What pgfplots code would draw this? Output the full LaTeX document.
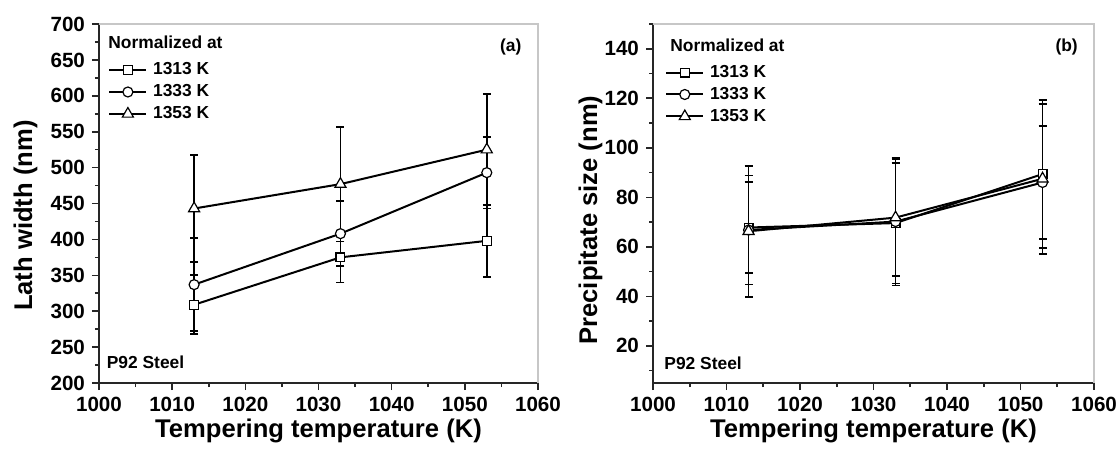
\documentclass[border=0pt]{standalone}
\usepackage{fontspec}
\setmainfont{Liberation Sans}
\usepackage{pgfplots}
\pgfplotsset{compat=1.18}

\pgfplotsset{
  panel/.style={
    scale only axis, width=219.5pt, height=179.5pt,
    axis lines*=left,
    axis line style={line width=0.8pt, black!85},
    tick align=outside,
    major tick length=3.5pt, minor tick length=2pt,
    every tick/.style={line width=0.8pt, black!85},
    xmin=1000, xmax=1060, xtick={1000,1010,...,1060}, minor xtick={1005,1015,...,1055},
    ticklabel style={font=\fontsize{10.3}{11}\selectfont\bfseries},
    /pgf/number format/assume math mode=true,
    /pgf/number format/1000 sep={},
    xlabel={Tempering temperature (K)},
    every axis x label/.style={at={(axis description cs:0.5,-0.153)}, anchor=base, font=\fontsize{12.8}{14}\selectfont\bfseries},
    clip=false,
    legend cell align=left,
    legend style={draw=none, fill=none, inner sep=0pt, row sep=3.4pt,
      font=\fontsize{8.7}{9}\selectfont\bfseries,
      nodes={inner sep=0pt},
      /tikz/every odd column/.append style={column sep=2.85pt}},
    after end axis/.code={\draw[black!22, line width=0.6pt] (rel axis cs:0,1) -- (rel axis cs:1,1) -- (rel axis cs:1,0);},
  },
  ln/.style={black, line width=1pt, mark=none, forget plot},
  sqm/.style={black, mark=square*, mark size=2.2pt, mark options={fill=white, draw=black, line width=0.6pt, solid}},
  cim/.style={black, mark=*, mark size=2.5pt, mark options={fill=white, draw=black, line width=0.6pt, solid}},
  trm/.style={black, mark=triangle*, mark size=3.2pt, mark options={fill=white, draw=black, line width=0.6pt, solid}},
  mk/.style={only marks, forget plot},
  leg/.style={black, line width=1pt, legend image code/.code={\draw[mark repeat=2, mark phase=2] plot coordinates {(0pt,0pt) (9.25pt,0pt) (18.5pt,0pt)};}},
  eb/.style={forget plot, draw=none, mark=none,
    error bars/.cd, y dir=both, y explicit,
    error bar style={draw=black, line width=0.9pt, solid},
    error mark=-,
    error mark options={draw=black, mark size=2pt, line width=0.9pt, rotate=90}},
}

\begin{document}
\begin{tikzpicture}
\path[use as bounding box] (0,0) rectangle (559pt,226pt);

% ---------------- panel (a)
\begin{axis}[panel, at={(49.5pt,34.5pt)}, anchor=south west,
  ymin=200, ymax=700, ytick={200,250,...,700}, minor ytick={225,275,...,675},
  ylabel={Lath width (nm)},
  every axis y label/.style={at={(axis description cs:-0.1526,0.466)}, rotate=90, anchor=base, font=\fontsize{12.8}{14}\selectfont\bfseries},
  legend style={at={(axis description cs:0.0205,0.894)}, anchor=north west},
]
\addlegendimage{leg, sqm}
\addlegendentry{1313 K}
\addlegendimage{leg, cim}
\addlegendentry{1333 K}
\addlegendimage{leg, trm}
\addlegendentry{1353 K}
% lines
\addplot[ln] coordinates {(1013,309) (1033,375) (1053,398)};
\addplot[ln] coordinates {(1013,337) (1033,408) (1053,493)};
\addplot[ln] coordinates {(1013,443) (1033,477) (1053,525)};
% markers
\addplot[mk, sqm] coordinates {(1013,309) (1033,375) (1053,398)};
\addplot[mk, cim] coordinates {(1013,337) (1033,408) (1053,493)};
\addplot[mk, trm] coordinates {(1013,443) (1033,477) (1053,525)};
% error bars
\addplot[eb] coordinates {(1013,309) +- (0,41) (1033,375) +- (0,35) (1053,398) +- (0,50)};
\addplot[eb] coordinates {(1013,337) +- (0,65) (1033,408) +- (0,45) (1053,493) +- (0,50)};
\addplot[eb] coordinates {(1013,443) +- (0,75) (1033,477) +- (0,80) (1053,525) +- (0,77)};
\node[anchor=west, font=\fontsize{8.7}{9}\selectfont\bfseries, inner sep=0pt] at (axis description cs:0.0205,0.950) {Normalized at};
\node[anchor=east, font=\fontsize{8.7}{9}\selectfont\bfseries, inner sep=0pt] at (axis description cs:0.963,0.937) {(a)};
\node[anchor=west, font=\fontsize{8.7}{9}\selectfont\bfseries, inner sep=0pt] at (axis description cs:0.017,0.057) {P92 Steel};
\end{axis}

% ---------------- panel (b)
\begin{axis}[panel, at={(326.5pt,34.5pt)}, anchor=south west, width=220.5pt,
  ymin=5, ymax=150, ytick={20,40,...,140}, minor ytick={10,30,...,150},
  ylabel={Precipitate size (nm)},
  every axis y label/.style={at={(axis description cs:-0.127,0.454)}, rotate=90, anchor=base, font=\fontsize{12.8}{14}\selectfont\bfseries},
  legend style={at={(axis description cs:0.027,0.887)}, anchor=north west},
]
\addlegendimage{leg, sqm}
\addlegendentry{1313 K}
\addlegendimage{leg, cim}
\addlegendentry{1333 K}
\addlegendimage{leg, trm}
\addlegendentry{1353 K}
\addplot[ln] coordinates {(1013,67.8) (1033,69.6) (1053,89.4)};
\addplot[ln] coordinates {(1013,66.8) (1033,70.2) (1053,86)};
\addplot[ln] coordinates {(1013,66.3) (1033,71.8) (1053,87.5)};
\addplot[mk, sqm] coordinates {(1013,67.8) (1033,69.6) (1053,89.4)};
\addplot[mk, cim] coordinates {(1013,66.8) (1033,70.2) (1053,86)};
\addplot[mk, trm] coordinates {(1013,66.3) (1033,71.8) (1053,87.5)};
\addplot[eb] coordinates {(1013,67.8) +- (0,18.3) (1033,69.6) +- (0,24.4) (1053,89.4) +- (0,29.8)};
\addplot[eb] coordinates {(1013,66.8) +- (0,22) (1033,70.2) +- (0,25.8) (1053,86) +- (0,22.7)};
\addplot[eb] coordinates {(1013,66.3) +- (0,26.5) (1033,71.8) +- (0,23.7) (1053,87.5) +- (0,30.3)};
\node[anchor=west, font=\fontsize{8.7}{9}\selectfont\bfseries, inner sep=0pt] at (axis description cs:0.0385,0.941) {Normalized at};
\node[anchor=east, font=\fontsize{8.7}{9}\selectfont\bfseries, inner sep=0pt] at (axis description cs:0.964,0.937) {(b)};
\node[anchor=west, font=\fontsize{8.7}{9}\selectfont\bfseries, inner sep=0pt] at (axis description cs:0.025,0.056) {P92 Steel};
\end{axis}
\end{tikzpicture}
\end{document}
